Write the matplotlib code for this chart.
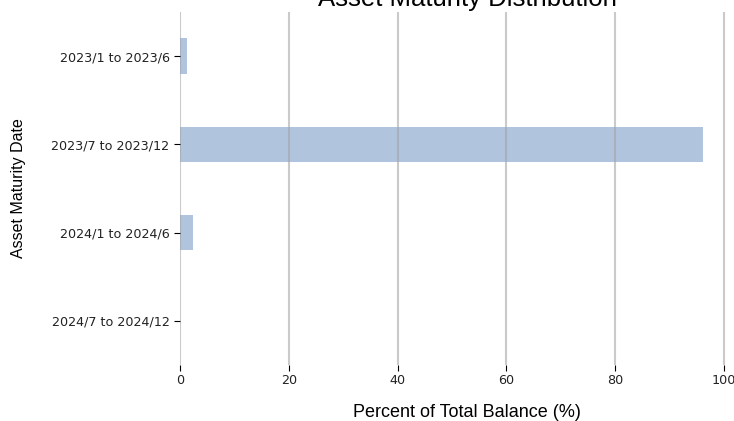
import matplotlib.pyplot as plt
from matplotlib import font_manager

# Datos
periods = ['2023/1 to 2023/6', '2023/7 to 2023/12', '2024/1 to 2024/6', '2024/7 to 2024/12']
pct_balance = [1.3, 96.1, 2.4, 0.0]

names = {f.name for f in font_manager.fontManager.ttflist}
narrow = 'Liberation Sans Narrow' if 'Liberation Sans Narrow' in names else 'Liberation Sans'

fig = plt.figure(figsize=(7.34, 4.21), dpi=100)
# el eje se sale un poco por la derecha, como en la imagen recortada
ax = fig.add_axes([180 / 734, 1 - 365 / 421, (754 - 180) / 734, (365 - 12) / 421])

ypos = list(range(len(periods)))
ax.barh(ypos, pct_balance, height=0.4, color='#b0c4de', zorder=1)
ax.set_ylim(len(periods) - 0.5, -0.5)
ax.set_xlim(0, 105.5)
ax.set_yticks(ypos)
ax.set_yticklabels(periods, fontsize=9.2, color='#222222')
ax.set_xticks([0, 20, 40, 60, 80, 100])
ax.tick_params(axis='x', labelsize=9.2, labelcolor='#222222', length=4, pad=2.5)
ax.tick_params(axis='y', length=4)

ax.grid(axis='x', color='#a0a0a0', alpha=0.55, linewidth=1.5, zorder=2)
ax.set_axisbelow(False)
for s in ax.spines.values():
    s.set_visible(False)

ax.set_title('Asset Maturity Distribution', family='Liberation Sans', fontsize=18.5, pad=4)
ax.set_xlabel('Percent of Total Balance (%)', family='Liberation Sans', fontsize=13, labelpad=12.5)
ax.set_ylabel('Asset Maturity Date', family=narrow, fontsize=11.5, labelpad=18)

fig.savefig('out.png', dpi=100)
